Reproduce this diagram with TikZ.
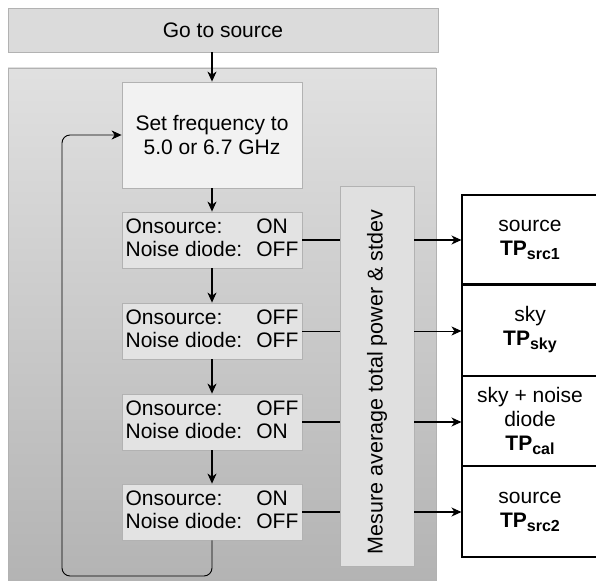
\documentclass[tikz,border=0pt]{standalone}
\usepackage{fontspec}
\setmainfont{Liberation Sans}
\usetikzlibrary{positioning,arrows.meta}
\tikzset{
  graybox/.style={draw=black!30, line width=0.8pt, inner sep=3pt},
  statebox/.style={graybox, fill=black!11, minimum width=180, minimum height=56,
    font=\fontsize{21}{23}\selectfont},
  resultbox/.style={draw=black, line width=1.1pt, minimum width=136, align=center,
    inner sep=2pt},
  tip/.style={-{Stealth[length=10pt,width=9pt,inset=3pt]}},
}
\newcommand{\onoff}[2]{\begin{tabular}{@{}l@{\hspace{14pt}}l@{}}Onsource: & #1\\Noise diode: & #2\end{tabular}}
\newcommand{\tpsub}[1]{\textbf{TP\raisebox{-4pt}{\fontsize{16}{16}\selectfont #1}}}
\begin{document}
\begin{tikzpicture}[x=1pt,y=-1pt,font=\fontsize{21}{24}\selectfont]
  \clip (0,0) rectangle (596,580);

  % loop box
  \draw[draw=black!30, line width=0.8pt, top color=black!12, bottom color=black!30]
    (8,68) rectangle (436,590);

  \node[graybox, fill=black!14, minimum width=430, minimum height=44] (go) at (223,30) {Go to source};
  \node[graybox, fill=black!5, minimum width=180, minimum height=106, align=center] (freq) at (212,135)
    {Set frequency to\\5.0 or 6.7 GHz};

  % switching states
  \node[statebox] (s1) at (212,240) {\onoff{ON}{OFF}};
  \node[statebox] (s2) at (212,331) {\onoff{OFF}{OFF}};
  \node[statebox] (s3) at (212,422) {\onoff{OFF}{ON}};
  \node[statebox] (s4) at (212,512) {\onoff{ON}{OFF}};

  \node[graybox, fill=black!12, minimum width=74, minimum height=380] (meas) at (377,376) {};
  \node[rotate=90, font=\fontsize{21.5}{24}\selectfont] (meastext) at (377,382) {Mesure average total power \& stdev};

  % results
  \node[resultbox, minimum height=89] (r1) at (530,239.5) {source\\\tpsub{src1}};
  \node[resultbox, minimum height=92] (r2) at (530,330) {sky\\\tpsub{sky}};
  \node[resultbox, minimum height=90] (r3) at (530,421) {sky + noise\\diode\\\tpsub{cal}};
  \node[resultbox, minimum height=91] (r4) at (530,511.5) {source\\\tpsub{src2}};
  \draw[line width=2.2pt] (r1.south west) -- (r1.south east);

  \draw[tip, line width=1.1pt] (go.south -| freq) -- (freq);
  \draw[tip, line width=1.1pt] (freq) -- (s1);
  \draw[tip, line width=1.1pt] (s1) -- (s2);
  \draw[tip, line width=1.1pt] (s2) -- (s3);
  \draw[tip, line width=1.1pt] (s3) -- (s4);

  \draw[line width=1.1pt] (s1) -- (meas.west |- s1);
  \draw[line width=0.6pt] (s2) -- (meas.west |- s2);
  \draw[line width=1.1pt] (s3) -- (meas.west |- s3);
  \draw[line width=1.1pt] (s4) -- (meas.west |- s4);
  \draw[tip, line width=1.1pt] (meas.east |- s1) -- (s1 -| r1.west);
  \draw[tip, line width=0.6pt] (meas.east |- s2) -- (s2 -| r2.west);
  \draw[tip, line width=1.1pt] (meas.east |- s3) -- (s3 -| r3.west);
  \draw[tip, line width=1.1pt] (meas.east |- s4) -- (s4 -| r4.west);

  % back to the start
  \draw[tip, line width=0.9pt, rounded corners=8] (s4.south) |- (62,576) |- (freq.west);
\end{tikzpicture}
\end{document}
